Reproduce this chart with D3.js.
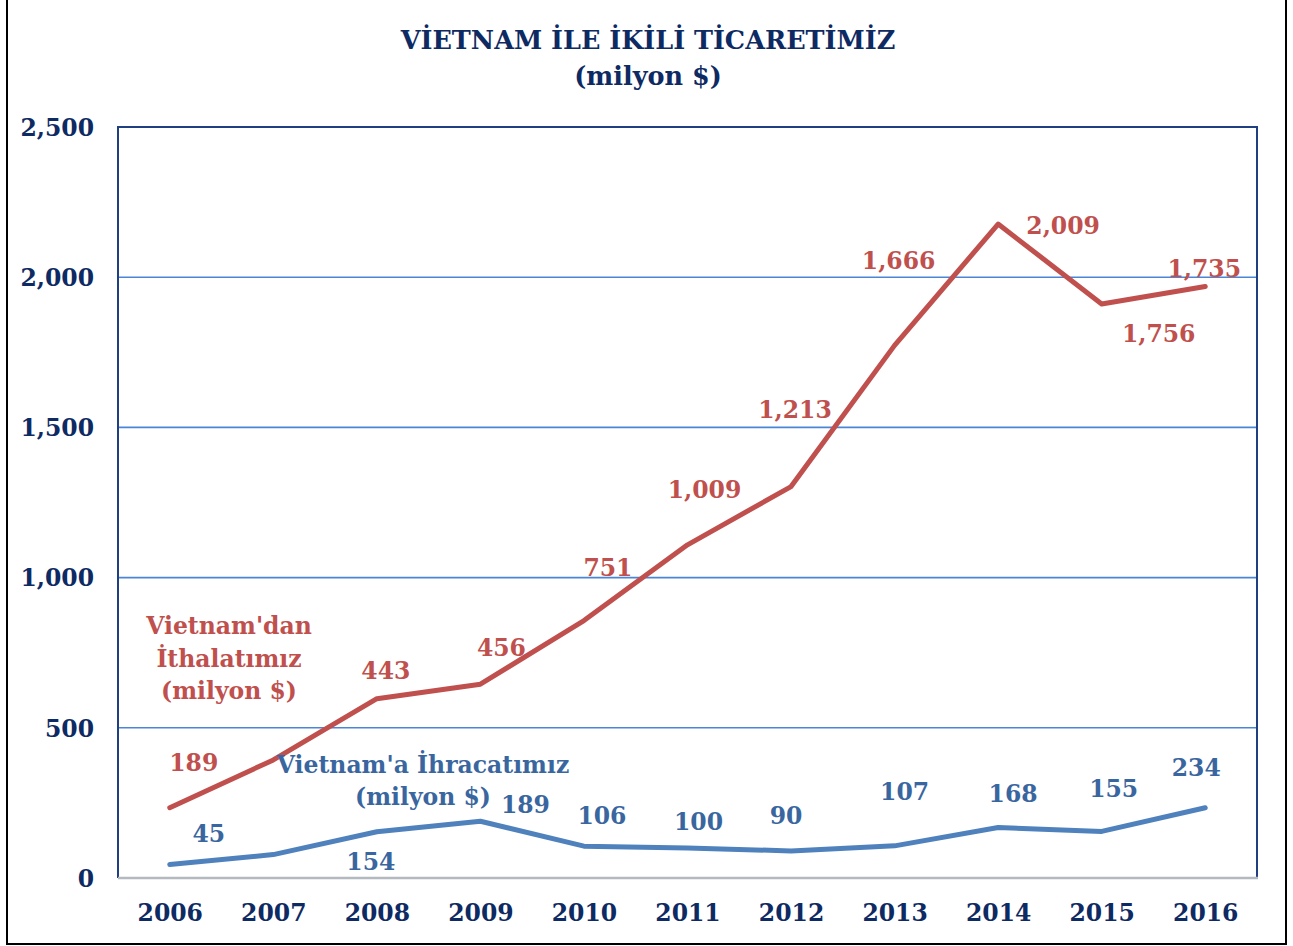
<!DOCTYPE html>
<html lang="tr">
<head>
    <meta charset="utf-8" />
    <title>Vietnam ile ikili ticaretimiz</title>
    <script src="https://d3js.org/d3.v7.min.js"></script>
    <style>
        body { margin: 0; background: #fff; }
        text { font-family: "DejaVu Serif", serif; font-weight: bold; }
        .grid line { stroke: #4a85d6; stroke-width: 1.6px; }
        .axis text { fill: #0e2a63; font-size: 23.5px; }
    </style>
</head>
<body>
<script>
    // yillar ve degerler (milyon $)
    var years = ["2006", "2007", "2008", "2009", "2010", "2011", "2012", "2013", "2014", "2015", "2016"];
    var ihracat = [45, 78, 154, 189, 106, 100, 90, 107, 168, 155, 234];      // Vietnam'a ihracat
    var ithalat = [189, 315, 443, 456, 751, 1009, 1213, 1666, 2009, 1756, 1735]; // Vietnam'dan ithalat
    var yTicks = [0, 500, 1000, 1500, 2000, 2500];
    var hideLabel = [false, true, false, false, false, false, false, false, false, false, false]; // 2007 etiketsiz

    // etiket kaydirmalari (px), grafikteki elle yerlestirilmis etiketler icin
    var redNudge = [[24, -45], [0, 0], [9, -28], [21, -36], [24, -53], [17, -55], [4, -77], [4, -85], [65, 2], [57, 30], [-1, -18]];
    var blueNudge = [[39, -31], [0, 0], [-6, 30], [45, -16], [18, -30], [11, -26], [-5, -35], [10, -54], [15, -34], [12, -43], [-9, -40]];

    var width = 1293, height = 946;
    var pLeft = 118, pRight = 1257, pTop = 127, pBottom = 878;

    var svg = d3.select("body").append("svg")
        .attr("width", width)
        .attr("height", height);

    // dis cerceve
    svg.append("rect")
        .attr("x", 7).attr("y", -3)
        .attr("width", 1279).attr("height", 947)
        .attr("fill", "none").attr("stroke", "#000").attr("stroke-width", 2);

    // yigilmis seriler: once ihracat, ustune ithalat
    var rows = years.map(function (y, i) { return { year: y, ihracat: ihracat[i], ithalat: ithalat[i] }; });
    var stack = d3.stack().keys(["ihracat", "ithalat"])(rows);

    var x = d3.scalePoint().domain(years).range([pLeft, pRight]).padding(0.5);
    var yScale = d3.scaleLinear().domain([0, 2500]).range([pBottom, pTop]);

    // yatay kilavuz cizgileri
    svg.append("g").attr("class", "grid")
        .selectAll("line")
        .data(yTicks.filter(function (d) { return d > 0 && d < 2500; }))
        .enter().append("line")
        .attr("x1", pLeft).attr("x2", pRight)
        .attr("y1", function (d) { return yScale(d); })
        .attr("y2", function (d) { return yScale(d); });

    // cizim alani cercevesi
    svg.append("path")
        .attr("d", "M" + pLeft + "," + pBottom + "V" + pTop + "H" + pRight + "V" + pBottom)
        .attr("fill", "none").attr("stroke", "#1f3f80").attr("stroke-width", 2);
    svg.append("line")
        .attr("x1", pLeft).attr("x2", pRight + 1)
        .attr("y1", pBottom).attr("y2", pBottom)
        .attr("stroke", "#b4b8bf").attr("stroke-width", 2.5);

    // y ekseni
    var yAxis = svg.append("g").attr("class", "axis")
        .attr("transform", "translate(" + 94 + ",0)")
        .call(d3.axisLeft(yScale).tickValues(yTicks).tickFormat(d3.format(",")).tickSize(0).tickPadding(0));
    yAxis.select(".domain").remove();
    yAxis.selectAll("text").attr("dy", "0.35em");

    // x ekseni
    var xAxis = svg.append("g").attr("class", "axis")
        .attr("transform", "translate(0," + pBottom + ")")
        .call(d3.axisBottom(x).tickSize(0).tickPadding(26));
    xAxis.select(".domain").remove();

    var line = d3.line()
        .x(function (d) { return x(d.data.year); })
        .y(function (d) { return yScale(d[1]); });

    var colors = ["#4f81bd", "#c0504d"];
    var textColors = ["#3a66a0", "#c0504d"];

    svg.selectAll(".series")
        .data(stack)
        .enter().append("path")
        .attr("class", "series")
        .attr("d", line)
        .attr("fill", "none")
        .attr("stroke", function (d, i) { return colors[i]; })
        .attr("stroke-width", 5)
        .attr("stroke-linejoin", "round")
        .attr("stroke-linecap", "round");

    // veri etiketleri
    var fmt = d3.format(",");
    [blueNudge, redNudge].forEach(function (nudge, s) {
        var vals = s === 0 ? ihracat : ithalat;
        var labels = stack[s].map(function (d, i) {
            return { year: d.data.year, top: d[1], value: vals[i], dx: nudge[i][0], dy: nudge[i][1], hide: hideLabel[i] };
        }).filter(function (d) { return !d.hide; });
        svg.append("g").selectAll("text")
            .data(labels)
            .enter().append("text")
            .attr("x", function (d) { return x(d.year) + d.dx; })
            .attr("y", function (d) { return yScale(d.top) + d.dy; })
            .attr("dy", "0.35em")
            .attr("text-anchor", "middle")
            .attr("font-size", 23.5)
            .attr("fill", textColors[s])
            .text(function (d) { return fmt(d.value); });
    });

    // seri adlari
    var redName = ["Vietnam'dan", "İthalatımız", "(milyon $)"];
    svg.append("g").selectAll("text")
        .data(redName).enter().append("text")
        .attr("x", 229).attr("y", function (d, i) { return 626 + i * 32.5; })
        .attr("dy", "0.35em").attr("text-anchor", "middle")
        .attr("font-size", 23.5).attr("fill", "#c0504d")
        .text(function (d) { return d; });

    var blueName = ["Vietnam'a İhracatımız", "(milyon $)"];
    svg.append("g").selectAll("text")
        .data(blueName).enter().append("text")
        .attr("x", 423).attr("y", function (d, i) { return 765 + i * 32; })
        .attr("dy", "0.35em").attr("text-anchor", "middle")
        .attr("font-size", 23.5).attr("fill", "#3a66a0")
        .text(function (d) { return d; });

    // baslik
    svg.append("text")
        .attr("x", 648).attr("y", 49)
        .attr("text-anchor", "middle").attr("font-size", 25.5).attr("fill", "#0e2a63")
        .text("VİETNAM İLE İKİLİ TİCARETİMİZ");
    svg.append("text")
        .attr("x", 648).attr("y", 85)
        .attr("text-anchor", "middle").attr("font-size", 25.5).attr("fill", "#0e2a63")
        .text("(milyon $)");
</script>
</body>
</html>
